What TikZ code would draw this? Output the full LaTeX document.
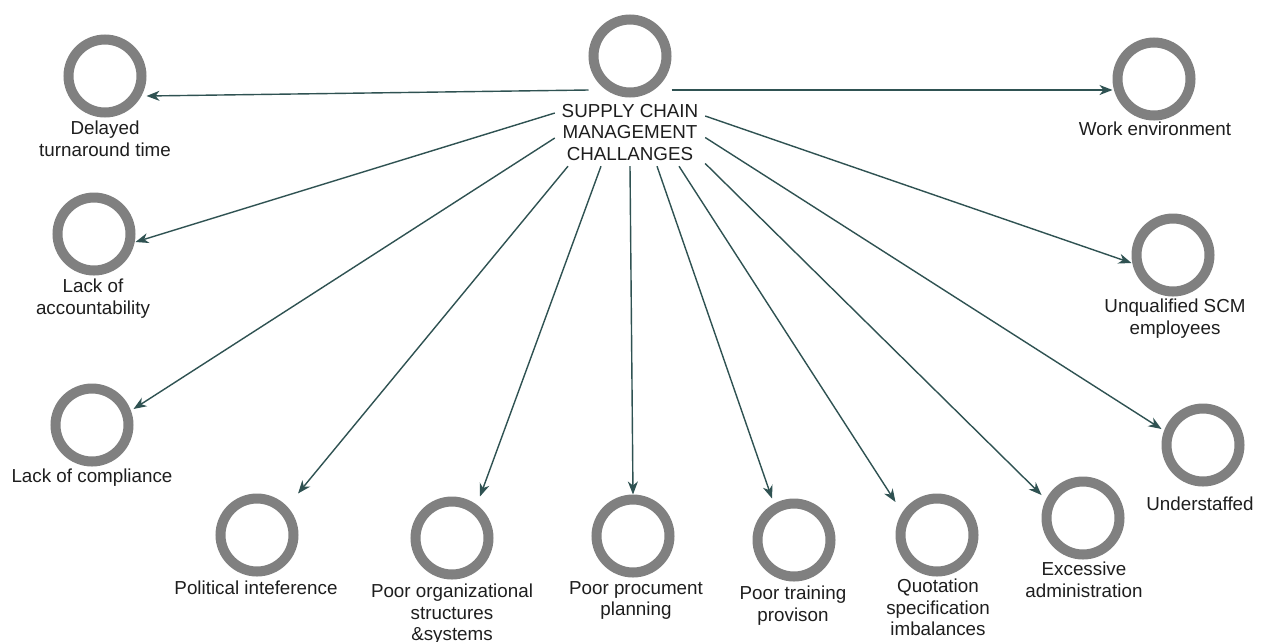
\documentclass[tikz,border=0pt]{standalone}
\usepackage{fontspec}
\setmainfont{Liberation Sans}
\usetikzlibrary{arrows.meta,calc}
\definecolor{ringgray}{RGB}{128,128,128}
\definecolor{arrowc}{RGB}{47,82,82}
\definecolor{txt}{RGB}{30,30,30}
\begin{document}
\begin{tikzpicture}[x=1pt,y=-1pt,
  ring/.style={circle,draw=ringgray,line width=10pt,minimum size=73pt,inner sep=0pt,outer sep=5pt},
  lbl/.style={anchor=north,align=center,inner sep=0pt,text=txt,font=\fontsize{18.8}{21.5}\selectfont},
  arr/.style={draw=arrowc,line width=1.4pt,-{Stealth[length=13pt,width=10pt,inset=4pt]}}]
\fill[white] (0,0) rectangle (1270,641);
\useasboundingbox (0,0) rectangle (1270,641);

% circles
\node[ring] (hub) at (630,56) {};
\node[ring] (del) at (105,76) {};
\node[ring] (work) at (1154,79) {};
\node[ring] (acc) at (94,234) {};
\node[ring] (unq) at (1173,255) {};
\node[ring] (comp) at (92,425) {};
\node[ring] (und) at (1203,445) {};
\node[ring] (pol) at (257,535) {};
\node[ring] (org) at (452,538) {};
\node[ring] (proc) at (633,536) {};
\node[ring] (train) at (794,540) {};
\node[ring] (quot) at (937,535) {};
\node[ring] (exc) at (1083,518) {};

% labels
\node[lbl,anchor=center,minimum width=150pt,minimum height=67pt] (hubt) at (630,132.5) {SUPPLY CHAIN\\MANAGEMENT\\CHALLANGES};
\node[lbl] (del-t) at (105,121) {Delayed\\turnaround time};
\node[lbl] (work-t) at (1155,122) {Work environment};
\node[lbl] (acc-t) at (93,279) {Lack of\\accountability};
\node[lbl] (unq-t) at (1175,299) {Unqualified SCM\\employees};
\node[lbl] (comp-t) at (92,469) {Lack of compliance};
\node[lbl] (und-t) at (1200,497) {Understaffed};
\node[lbl] (pol-t) at (256,581) {Political inteference};
\node[lbl] (org-t) at (452,584) {Poor organizational\\structures\\\&systems};
\node[lbl] (proc-t) at (636,581) {Poor procument\\planning};
\node[lbl] (train-t) at (793,586) {Poor training\\provison};
\node[lbl] (quot-t) at (938,579) {Quotation\\specification\\imbalances};
\node[lbl] (exc-t) at (1084,562) {Excessive\\administration};

% connectors
\draw[arr] ($(hub.west)+(0,34)$) -- ($(del.east)+(0,20)$);
\draw[arr] ($(hub.east)+(0,34)$) -- ($(work.west)+(0,11)$);
\draw[arr] ($(hubt.west)+(0,-19.5)$) -- ($(acc.east)+(0,8)$);
\draw[arr] ($(hubt.west)+(0,5.5)$) -- ($(comp.east)+(0,-16)$);
\draw[arr] ($(hubt.south)+(-62,0)$) -- ($(pol.north)+(41,0)$);
\draw[arr] ($(hubt.south)+(-29,0)$) -- ($(org.north)+(28,0)$);
\draw[arr] (hubt.south) -- (proc.north);
\draw[arr] ($(hubt.south)+(27,0)$) -- ($(train.north)+(-22,0)$);
\draw[arr] ($(hubt.south)+(49,0)$) -- ($(quot.west)+(0,-33)$);
\draw[arr] ($(hubt.east)+(0,31)$) -- ($(exc.west)+(0,-23)$);
\draw[arr] ($(hubt.east)+(0,5)$) -- ($(und.west)+(0,-16)$);
\draw[arr] ($(hubt.east)+(0,-16.5)$) -- ($(unq.west)+(0,8)$);
\end{tikzpicture}
\end{document}
